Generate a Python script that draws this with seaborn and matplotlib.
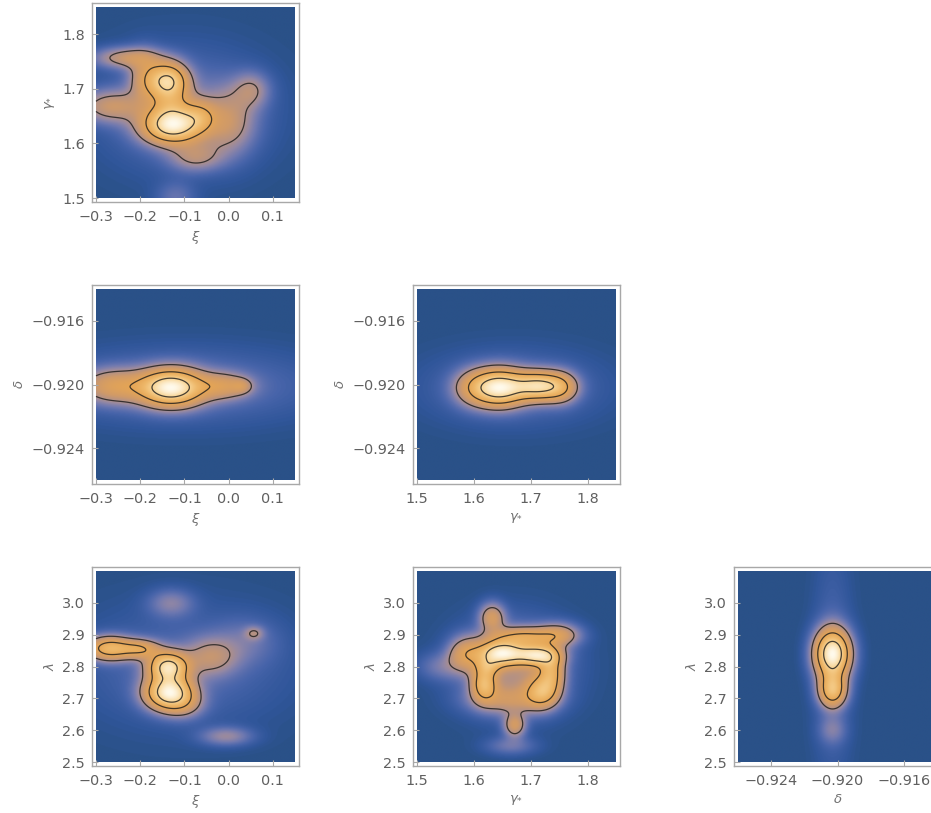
import numpy as np
import matplotlib
matplotlib.use("Agg")
import matplotlib.pyplot as plt
from matplotlib.colors import LinearSegmentedColormap
import seaborn as sns

sns.set_style("white")
plt.rcParams['font.family'] = ['DejaVu Sans']

# ---------------- data: density components ----------------
XI_RANGE = [-0.30, 0.15]
XI_TICKS = [-0.3, -0.2, -0.1, 0.0, 0.1]
GAMMA_RANGE = [1.50, 1.85]
GAMMA_TICKS = [1.5, 1.6, 1.7, 1.8]
DELTA_RANGE = [-0.926, -0.914]
DELTA_TICKS = [-0.924, -0.920, -0.916]
LAMBDA_RANGE = [2.50, 3.10]
LAMBDA_TICKS = [2.5, 2.6, 2.7, 2.8, 2.9, 3.0]

# panel (xi, gamma*) : blob centres, widths, weights
XG_CX = [-0.127, -0.138, -0.130, -0.065, -0.230, -0.265, 0.052, 0.000, -0.075, -0.190, -0.120, -0.100]
XG_CY = [1.633, 1.716, 1.675, 1.652, 1.757, 1.668, 1.698, 1.640, 1.575, 1.720, 1.500, 1.660]
XG_SX = [0.045, 0.030, 0.030, 0.025, 0.050, 0.050, 0.028, 0.040, 0.040, 0.025, 0.030, 0.120]
XG_SY = [0.022, 0.022, 0.025, 0.020, 0.013, 0.020, 0.022, 0.040, 0.018, 0.030, 0.020, 0.070]
XG_W = [1.00, 0.80, 0.30, 0.28, 0.30, 0.30, 0.20, 0.26, 0.22, 0.28, 0.10, 0.12]

# panel (xi, delta)
XD_CX = [-0.130, -0.260, -0.010, 0.030, -0.100]
XD_CY = [-0.9202, -0.9201, -0.9201, -0.9201, -0.9201]
XD_SX = [0.048, 0.050, 0.040, 0.015, 0.200]
XD_SY = [0.00075, 0.00070, 0.00055, 0.00030, 0.00150]
XD_W = [1.00, 0.35, 0.30, 0.15, 0.10]

# panel (gamma*, delta)
GD_CX = [1.645, 1.715, 1.600, 1.755, 1.670]
GD_CY = [-0.9202, -0.9201, -0.9202, -0.9202, -0.9202]
GD_SX = [0.030, 0.030, 0.025, 0.020, 0.100]
GD_SY = [0.00075, 0.00060, 0.00075, 0.00065, 0.00150]
GD_W = [1.00, 0.85, 0.30, 0.30, 0.10]

# panel (xi, lambda)
XL_CX = [-0.135, -0.137, -0.270, -0.200, -0.040, 0.058, 0.040, -0.130, -0.005, -0.100, -0.100]
XL_CY = [2.718, 2.800, 2.857, 2.855, 2.830, 2.905, 2.880, 3.000, 2.580, 2.680, 2.800]
XL_SX = [0.035, 0.030, 0.035, 0.030, 0.040, 0.015, 0.050, 0.035, 0.040, 0.030, 0.150]
XL_SY = [0.035, 0.030, 0.025, 0.020, 0.040, 0.015, 0.050, 0.030, 0.020, 0.030, 0.120]
XL_W = [1.00, 0.85, 0.60, 0.40, 0.22, 0.15, 0.08, 0.14, 0.17, 0.18, 0.08]

# panel (gamma*, lambda)
GL_CX = [1.648, 1.713, 1.690, 1.618, 1.625, 1.720, 1.737, 1.585, 1.632, 1.672,
         1.660, 1.670, 1.750, 1.545, 1.665]
GL_CY = [2.842, 2.836, 2.895, 2.745, 2.800, 2.722, 2.785, 2.840, 2.955, 2.615,
         2.695, 2.800, 2.900, 2.800, 2.550]
GL_SX = [0.028, 0.025, 0.040, 0.015, 0.015, 0.020, 0.015, 0.020, 0.015, 0.013,
         0.045, 0.060, 0.025, 0.030, 0.030]
GL_SY = [0.026, 0.022, 0.020, 0.035, 0.020, 0.035, 0.040, 0.035, 0.030, 0.025,
         0.030, 0.090, 0.025, 0.030, 0.020]
GL_W = [0.80, 0.70, 0.35, 0.50, 0.25, 0.48, 0.40, 0.30, 0.30, 0.30,
        0.22, 0.20, 0.25, 0.10, 0.10]

# panel (delta, lambda)
DL_CX = [-0.9203, -0.9203, -0.9203, -0.9203]
DL_CY = [2.840, 2.725, 2.800, 2.600]
DL_SX = [0.00070, 0.00055, 0.00080, 0.00055]
DL_SY = [0.050, 0.035, 0.250, 0.030]
DL_W = [1.00, 0.60, 0.06, 0.10]

CONTOUR_LEVELS = [0.20, 0.45, 0.75]

# ---------------- styling ----------------
CMAP_POS = [0.00, 0.015, 0.05, 0.10, 0.15, 0.20, 0.30, 0.45, 0.60, 0.78, 1.00]
CMAP_COL = ["#2a5188", "#30569a", "#4764aa", "#6e78b0", "#9488a4", "#b09088",
            "#d09a68", "#e5a555", "#eeb86a", "#f8d699", "#fffaec"]
cmap = LinearSegmentedColormap.from_list("dens", list(zip(CMAP_POS, CMAP_COL)))

W, H = 931, 813
fig = plt.figure(figsize=(W / 100, H / 100), dpi=100)

col_x = [96, 417, 738]   # image left edge (px)
row_y = [7, 289, 571]    # image top edge (px)
pw, ph = 199, 191        # image size (px)
PAD = 4                  # white margin between image and frame (px)

TICK_C = "#606060"
LAB_C = "#707070"
FRAME_C = "#a8a8a8"


def density(xr, yr, cx, cy, sx, sy, w, n=300):
    gx = np.linspace(xr[0], xr[1], n)
    gy = np.linspace(yr[0], yr[1], n)
    X, Y = np.meshgrid(gx, gy)
    Z = np.zeros_like(X)
    for a, b, s1, s2, ww in zip(cx, cy, sx, sy, w):
        Z += ww * np.exp(-0.5 * ((X - a) / s1) ** 2 - 0.5 * ((Y - b) / s2) ** 2)
    Z /= Z.max()
    return gx, gy, Z


def panel(col, row, xr, yr, xt, yt, xl, yl, comps, xfmt, yfmt):
    left = (col_x[col] - PAD) / W
    bottom = 1 - (row_y[row] + ph + PAD) / H
    ax = fig.add_axes([left, bottom, (pw + 2 * PAD) / W, (ph + 2 * PAD) / H])
    gx, gy, Z = density(xr, yr, *comps)
    ax.imshow(Z, origin="lower", extent=[xr[0], xr[1], yr[0], yr[1]],
              cmap=cmap, vmin=0, vmax=1, aspect="auto", interpolation="bilinear")
    ax.contour(gx, gy, Z, levels=CONTOUR_LEVELS, colors="#1a1a1a",
               linewidths=0.9, alpha=0.8)
    dx = (xr[1] - xr[0]) * PAD / pw
    dy = (yr[1] - yr[0]) * PAD / ph
    ax.set_xlim(xr[0] - dx, xr[1] + dx)
    ax.set_ylim(yr[0] - dy, yr[1] + dy)
    for s in ax.spines.values():
        s.set_color(FRAME_C)
        s.set_linewidth(1.0)
        s.set_visible(True)
    ax.set_xticks(xt)
    ax.set_yticks(yt)
    ax.set_xticklabels([xfmt.format(v).replace("-", "\u2212") for v in xt])
    ax.set_yticklabels([yfmt.format(v).replace("-", "\u2212") for v in yt])
    ax.tick_params(axis="both", direction="in", length=4, width=0.8,
                   color=FRAME_C, labelcolor=TICK_C, labelsize=10.4,
                   bottom=True, left=True, top=False, right=False)
    ax.tick_params(axis="x", pad=6)
    ax.tick_params(axis="y", pad=5)
    ax.set_xlabel(xl, color=LAB_C, fontsize=9.5, labelpad=3)
    ax.set_ylabel(yl, color=LAB_C, fontsize=9.5, labelpad=4)
    return ax


XI_L = r"$\xi$"
GA_L = r"$\gamma_{*}$"
DE_L = r"$\delta$"
LA_L = r"$\lambda$"

panel(0, 0, XI_RANGE, GAMMA_RANGE, XI_TICKS, GAMMA_TICKS, XI_L, GA_L,
      (XG_CX, XG_CY, XG_SX, XG_SY, XG_W), "{:.1f}", "{:.1f}")
panel(0, 1, XI_RANGE, DELTA_RANGE, XI_TICKS, DELTA_TICKS, XI_L, DE_L,
      (XD_CX, XD_CY, XD_SX, XD_SY, XD_W), "{:.1f}", "{:.3f}")
panel(1, 1, GAMMA_RANGE, DELTA_RANGE, GAMMA_TICKS, DELTA_TICKS, GA_L, DE_L,
      (GD_CX, GD_CY, GD_SX, GD_SY, GD_W), "{:.1f}", "{:.3f}")
panel(0, 2, XI_RANGE, LAMBDA_RANGE, XI_TICKS, LAMBDA_TICKS, XI_L, LA_L,
      (XL_CX, XL_CY, XL_SX, XL_SY, XL_W), "{:.1f}", "{:.1f}")
panel(1, 2, GAMMA_RANGE, LAMBDA_RANGE, GAMMA_TICKS, LAMBDA_TICKS, GA_L, LA_L,
      (GL_CX, GL_CY, GL_SX, GL_SY, GL_W), "{:.1f}", "{:.1f}")
panel(2, 2, DELTA_RANGE, LAMBDA_RANGE, DELTA_TICKS, LAMBDA_TICKS, DE_L, LA_L,
      (DL_CX, DL_CY, DL_SX, DL_SY, DL_W), "{:.3f}", "{:.1f}")

fig.savefig("out.png", dpi=100)
